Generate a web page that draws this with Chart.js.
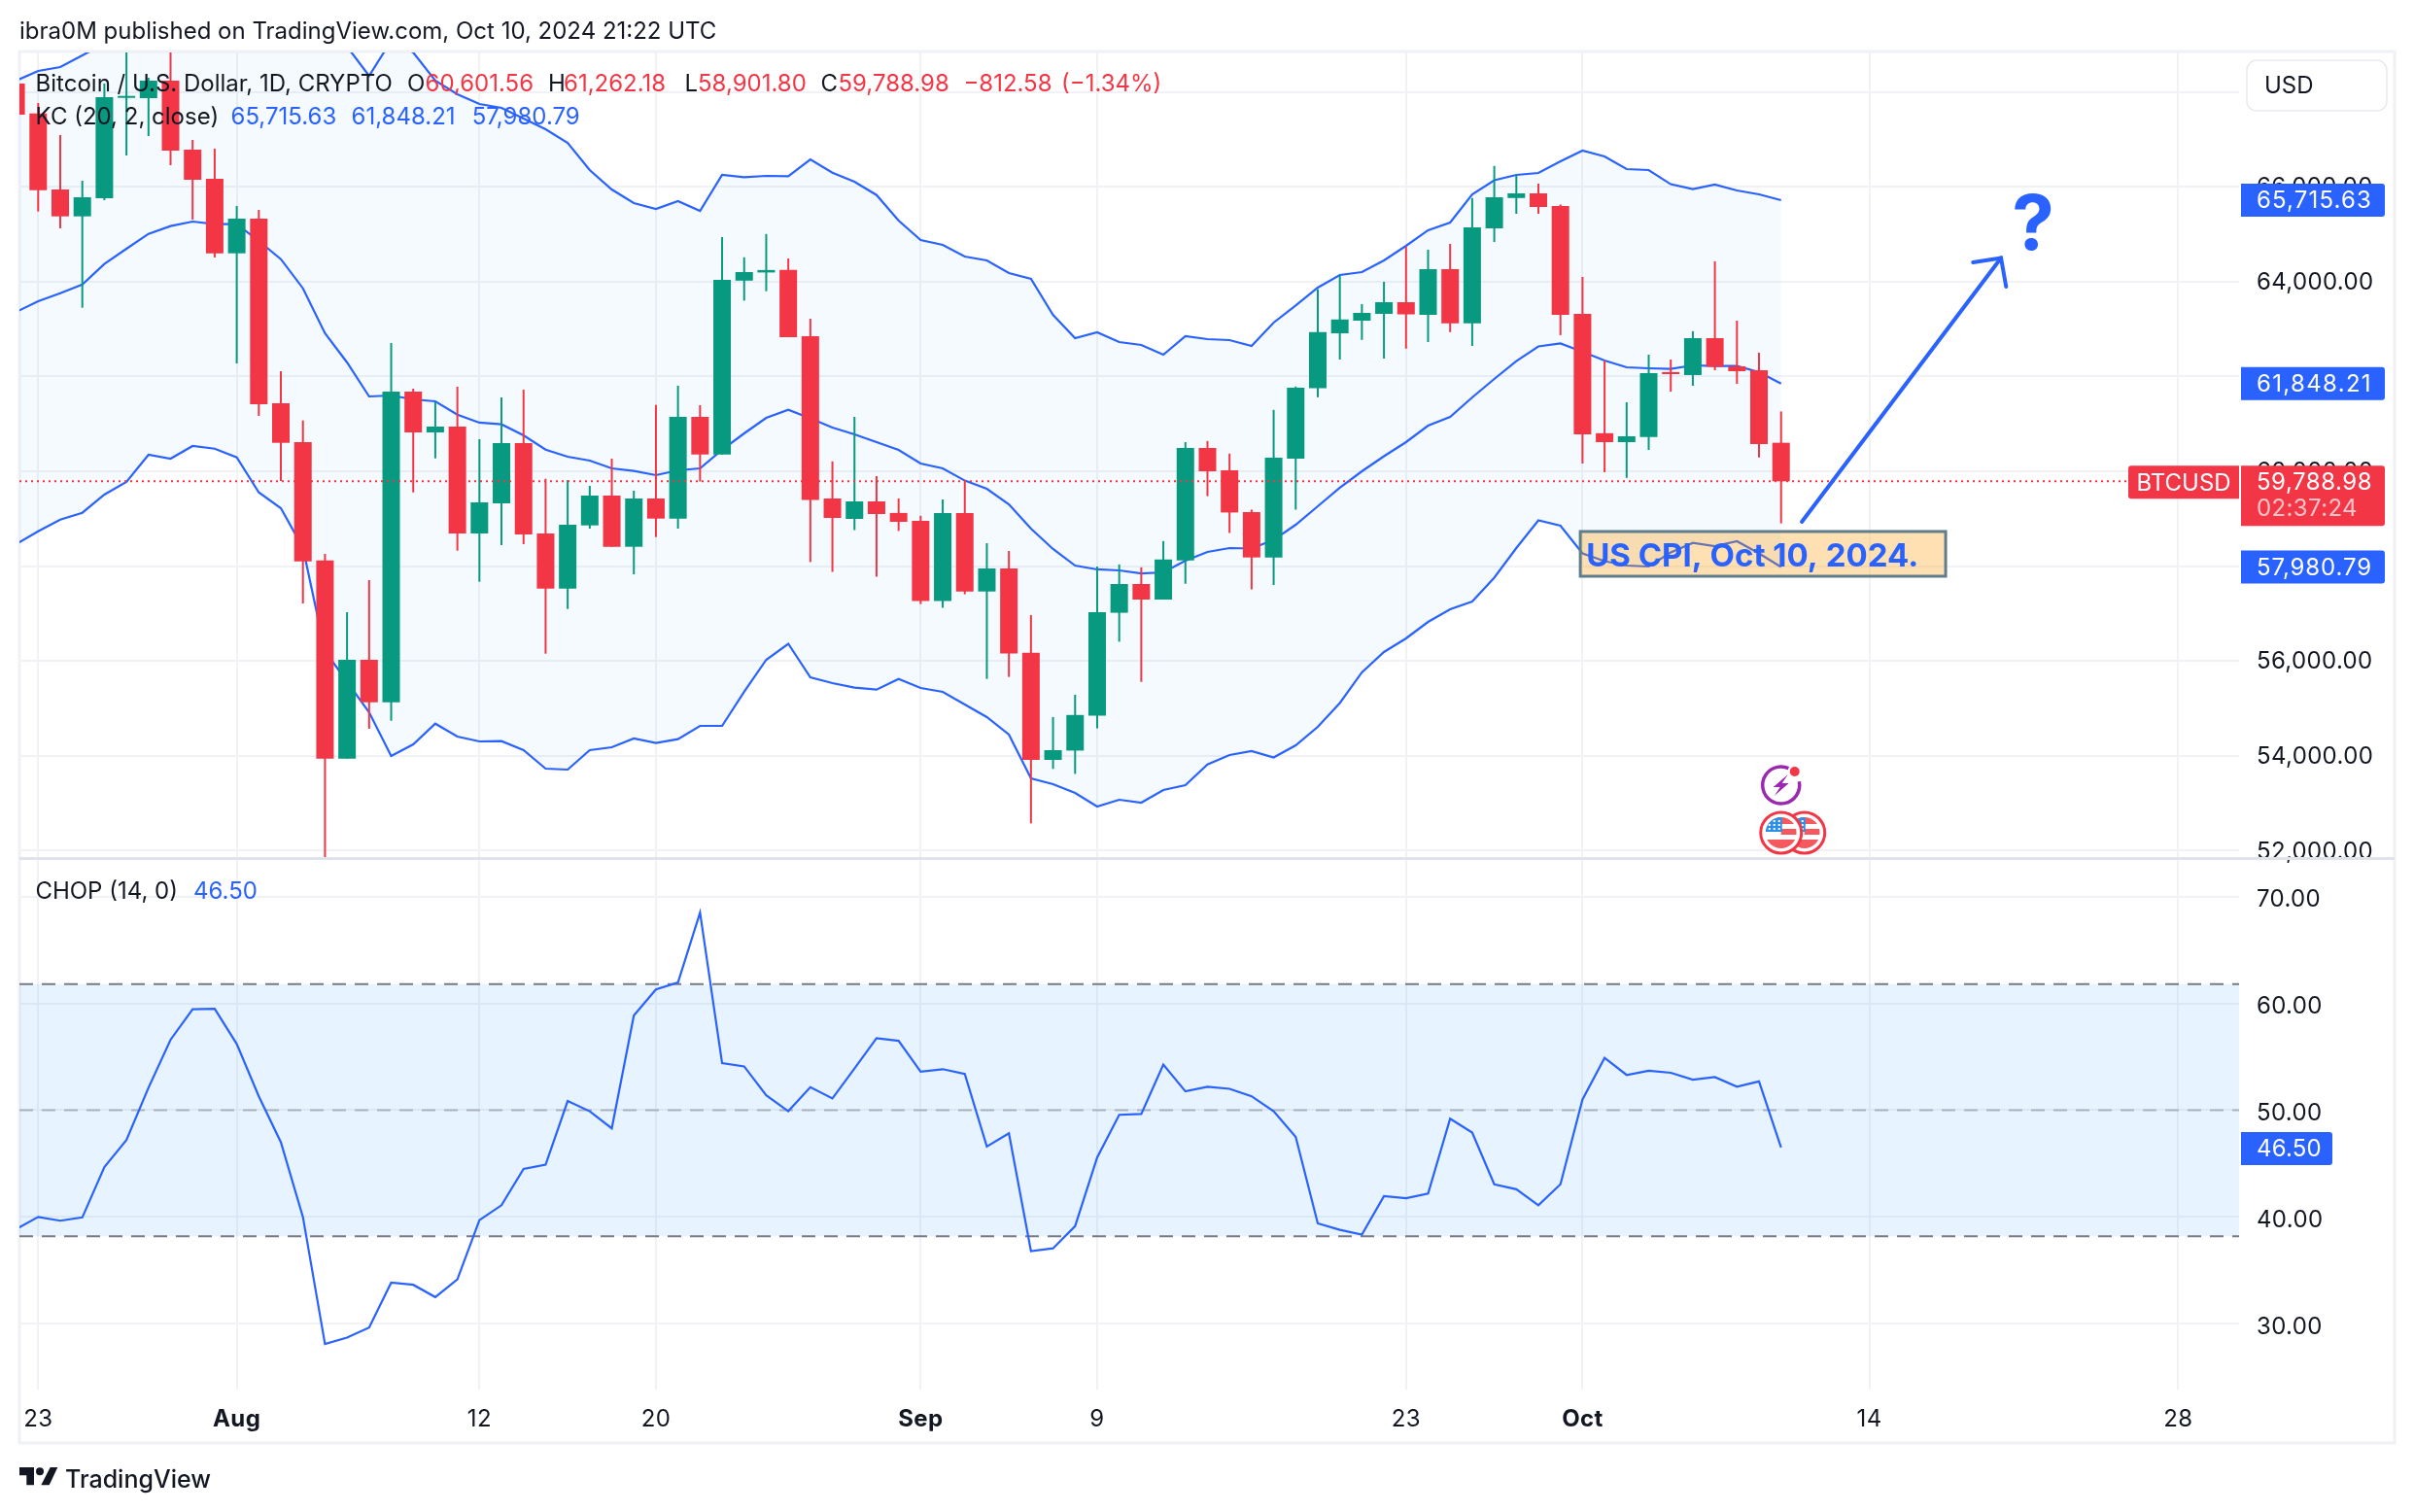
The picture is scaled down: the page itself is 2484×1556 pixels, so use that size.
<!DOCTYPE html>
<html>
<head>
<meta charset="utf-8">
<title>BTCUSD</title>
<style>html,body{margin:0;padding:0;background:#fff}canvas{display:block}</style>
<script src="https://cdn.jsdelivr.net/npm/chart.js@4/dist/chart.umd.min.js"></script>
</head>
<body>
<canvas id="c" width="2484" height="1556"></canvas>
<script>
const firstDay = -10; // day offset from Aug 1 2024 of the first candle (Jul 22)
const opens = [68176,67547,65942,65375,65758,67874,67868,68237,66782,66167,64596,65327,61434,60615,58121,53941,56025,55129,61680,60820,60943,58689,59324,60594,58689,57527,58859,59488,58408,59426,59002,61147,60354,64020,64192,64244,62848,59426,58996,59365,59121,58957,57267,59121,57465,57951,56172,53914,54111,54845,57017,57623,57295,58121,60492,60020,59139,58183,60268,61752,62910,63176,63319,63565,63299,64262,63117,65122,65762,65860,65596,63319,60803,60615,60721,62092,62029,62807,62213,62131,60601.56];
const highs = [68300,67766,67090,66127,68176,70000,68298,70000,66987,66803,65594,65512,62110,61072,58258,57029,57705,62705,61742,61475,61783,60676,61557,61721,59842,59816,59693,60266,59590,61399,61803,61393,64938,64512,65004,64487,63217,60209,61147,59898,59426,59062,59406,59803,58484,58320,56967,54818,55287,57992,58035,57976,58527,60615,60639,60373,59191,61295,61787,63840,64141,63524,63996,64737,64672,64795,65762,66438,66249,66065,65625,64098,62336,61455,62459,62356,62953,64426,63176,62500,61262.18];
const lows = [67520,65477,65122,63449,65717,66659,67069,66454,65307,64508,62274,61168,59795,57213,49000,53941,54570,54740,59555,60273,58326,57670,58443,58463,56154,57097,58791,58408,57828,58613,58791,59785,60354,63598,63797,62830,58086,57879,58760,57777,58742,57199,57121,57406,55621,55664,52576,53724,53619,54578,56406,55560,57295,57629,59475,58699,57508,57603,59191,61561,62356,62770,62377,62586,62725,62934,62643,64836,65430,65430,62871,60164,59980,59861,60451,61680,61803,62131,61844,60291,58901.80];
const closes = [67520,65928,65375,65778,67889,67909,68237,66762,66147,64596,65327,61414,60600,58101,53941,56025,55129,61680,60820,60943,58689,59344,60594,58668,57527,58873,59488,58408,59426,59002,61147,60354,64037,64200,64244,62830,59398,59016,59365,59098,58935,57267,59121,57465,57951,56156,53914,54119,54861,57029,57623,57295,58140,60492,60000,59131,58183,60287,61762,62934,63201,63340,63565,63309,64262,63117,65143,65778,65860,65573,63299,60779,60615,60738,62069,62049,62807,62203,62110,60574,59788.98];
const kcUpper = [68237,68442,68524,68770,69016,69500,70000,70400,70600,70700,70600,70300,70000,69800,69600,68954,68339,69077,68831,68237,67950,67745,67663,67438,67212,66926,66352,65942,65655,65532,65696,65491,66249,66202,66229,66223,66577,66297,66106,65825,65286,64877,64774,64528,64446,64180,64057,63299,62807,62930,62725,62664,62459,62848,62787,62766,62643,63135,63494,63873,64139,64200,64446,64754,65082,65245,65840,66137,66249,66290,66536,66762,66639,66372,66352,66053,65952,66045,65922,65840,65715.63];
const kcMiddle = [63360,63586,63756,63940,64371,64692,65006,65170,65266,65211,65211,64856,64473,63858,62910,62295,61578,61598,61516,61475,61195,61025,60990,60758,60457,60307,60225,60061,60006,59918,60020,60061,60451,60799,61127,61295,61115,60922,60779,60615,60451,60164,60061,59803,59631,59303,58791,58361,58012,57931,57910,57848,57869,58115,58299,58381,58371,58553,58873,59262,59652,60000,60318,60615,60963,61147,61557,61947,62322,62633,62696,62520,62336,62192,62172,62158,62233,62221,62221,62090,61848.21];
const kcLower = [58463,58736,58982,59125,59508,59775,60348,60266,60533,60477,60293,59555,59221,58387,56209,55560,54918,53996,54242,54679,54406,54304,54310,54119,53730,53710,54119,54181,54365,54269,54353,54632,54632,55353,56025,56363,55656,55533,55439,55396,55621,55431,55349,55082,54816,54447,53525,53402,53218,52931,53074,53013,53279,53382,53818,54017,54099,53964,54222,54611,55113,55759,56189,56476,56824,57090,57254,57756,58381,58965,58853,58269,58105,58012,57992,58287,58490,58422,58525,58269,57980.79];
const chopValues = [38.86,40.0,39.65,39.96,44.67,47.2,52.1,56.6,59.45,59.5,56.2,51.3,47.0,40.0,28.1,28.7,29.65,33.85,33.65,32.5,34.15,39.7,41.1,44.5,44.9,50.86,49.9,48.3,58.86,61.3,61.96,68.5,54.4,54.1,51.4,49.9,52.16,51.1,53.9,56.75,56.5,53.6,53.84,53.4,46.6,47.84,36.8,37.06,39.14,45.57,49.57,49.65,54.27,51.76,52.2,52.0,51.3,49.9,47.5,39.4,38.8,38.35,41.96,41.76,42.2,49.2,47.9,43.06,42.6,41.1,43.06,51.0,54.9,53.3,53.7,53.5,52.86,53.1,52.2,52.7,46.5];
const priceTicks = [52000,54000,56000,58000,60000,62000,64000,66000,68000];
const chopTicks = [30,40,50,60,70];
const chopUpper = 61.8, chopMid = 50, chopLower = 38.2;
const timeTickDays = [-9,0,11,19,31,39,53,61,74,88];
const timeTickLabels = ['23','Aug','12','20','Sep','9','23','Oct','14','28'];
const monthLabels = ['Aug','Sep','Oct'];
const lastClose = 59788.98, kcLast = [65715.63,61848.21,57980.79], chopLast = 46.5;
const arrowLine = [[70.94,58935],[79.97,64498]];
const arrowHead = [[78.7,64405],[79.97,64498],[80.2,63893]];
const calloutBox = {day0:60.9, day1:77.46, top:58730, bottom:57787};
const questionAt = {day:81.42, price:65143};
const eventDay = 70;

const BLUE='#2962ff', RED='#f23645', GREEN='#089981', INK='#131722', GRID='#f1f2f5';
const days = opens.map((_,i)=>firstDay+i);
const up = closes.map((c,i)=>c>=opens[i]);
const candleColors = up.map(u=>u?GREEN:RED);
const fmt2 = v=>v.toLocaleString('en-US',{minimumFractionDigits:2,maximumFractionDigits:2});
const series = arr=>arr.map((v,i)=>({x:days[i],y:v}));
const xMin=-9.85, xMax=90.76;

function roundTag(ctx,x,y,w,h,rad,color){ctx.fillStyle=color;ctx.beginPath();ctx.roundRect(x,y,w,h,rad);ctx.fill();}
function label(ctx,t,x,y,font,color,align,fitWidth){
  ctx.font=font;ctx.fillStyle=color;ctx.textAlign=align||'left';ctx.textBaseline='middle';
  ctx.letterSpacing='0px';
  if(fitWidth){ctx.letterSpacing=((fitWidth-ctx.measureText(t).width)/t.length).toFixed(2)+'px';}
  ctx.fillText(t,x,y);
  ctx.letterSpacing='0px';
}

const overlay = {
  id:'overlay',
  beforeDraw(chart){
    const c=chart.ctx;
    c.fillStyle='#fff';c.fillRect(0,0,2484,1556);
    c.strokeStyle='#f0f1f6';c.lineWidth=3;c.strokeRect(20,53,2444,1432);
    c.letterSpacing='0.35px';
  },
  afterDatasetsDraw(chart){
    const c=chart.ctx, X=chart.scales.x, Y=chart.scales.y, S=chart.scales.chop;
    c.save();
    // pane separator
    c.fillStyle='#e0e3eb';c.fillRect(20,882,2444,3);
    // callout
    const bx=X.getPixelForValue(calloutBox.day0), bw=X.getPixelForValue(calloutBox.day1)-bx;
    const by=Y.getPixelForValue(calloutBox.top), bh=Y.getPixelForValue(calloutBox.bottom)-by;
    c.fillStyle='rgba(255,152,0,0.3)';c.fillRect(bx,by,bw,bh);
    c.strokeStyle='#607d8b';c.lineWidth=3;c.strokeRect(bx,by,bw,bh);
    label(c,'US CPI, Oct 10, 2024.',bx+6,by+bh/2+3,'bold 33px Inter',BLUE);
    label(c,'?',X.getPixelForValue(questionAt.day),Y.getPixelForValue(questionAt.price),'bold 78px Inter',BLUE,'center');
    // event icons
    const ex=X.getPixelForValue(eventDay);
    c.strokeStyle='#9c27b0';c.lineWidth=3.5;c.beginPath();c.arc(ex,808,19,-0.2,Math.PI*2-1.15);c.stroke();
    c.fillStyle='#9c27b0';c.beginPath();
    [[ex+7,797],[ex-8,810],[ex-1,810],[ex-7,819],[ex+8,806],[ex+1,806],[ex+7,797]].forEach((p,i)=>i?c.lineTo(p[0],p[1]):c.moveTo(p[0],p[1]));c.fill();
    c.fillStyle='#fff';c.beginPath();c.arc(ex+14,794,7,0,7);c.fill();
    c.fillStyle=RED;c.beginPath();c.arc(ex+14,794,5,0,7);c.fill();
    [ex+24,ex].forEach(fx=>{
      const fy=857;
      c.fillStyle='#fff';c.beginPath();c.arc(fx,fy,21,0,7);c.fill();
      c.strokeStyle=RED;c.lineWidth=3;c.stroke();
      c.save();c.beginPath();c.arc(fx,fy,16,0,7);c.clip();
      c.fillStyle='#f4595f';c.fillRect(fx-16,fy-16,32,7);c.fillRect(fx,fy-4,16,6);c.fillRect(fx-16,fy+7,32,9);
      c.fillStyle='#2f8fe6';c.fillRect(fx-16,fy-16,17,15);
      c.fillStyle='#fff';for(let r=0;r<3;r++)for(let q=0;q<3;q++)c.fillRect(fx-13+q*5,fy-13+r*4,2,2);
      c.restore();
    });
    // price tags
    const tagX=X.right+2, tagW=148, tagH=34;
    kcLast.forEach(v=>{
      const y=Y.getPixelForValue(v);
      roundTag(c,tagX,y-tagH/2,tagW,tagH,[0,3,3,0],BLUE);
      label(c,fmt2(v),X.right+18,y+1,'24px Inter','#fff','left',119);
    });
    const py=Y.getPixelForValue(lastClose);
    roundTag(c,tagX,py-16,tagW,62,[0,3,3,0],RED);
    label(c,fmt2(lastClose),X.right+18,py+1,'24px Inter','#fff','left',119);
    label(c,'02:37:24',X.right+18,py+28,'24px Inter','rgba(255,255,255,0.7)','left',104);
    roundTag(c,X.right-114,py-16,114,34,[3,0,0,3],RED);
    label(c,'BTCUSD',X.right-57,py+2,'24px Inter','#fff','center');
    const sy=S.getPixelForValue(chopLast);
    roundTag(c,tagX,sy-16,94,34,[0,3,3,0],BLUE);
    label(c,chopLast.toFixed(2),X.right+18,sy+2,'24px Inter','#fff','left',67);
    // currency button
    c.fillStyle='#fff';c.strokeStyle='#e8eaf1';c.lineWidth=1.5;c.beginPath();c.roundRect(2312,62,144,52,10);c.fill();c.stroke();
    label(c,'USD',2330,89,'24px Inter',INK);
    // legend
    const lf='24px Inter';
    label(c,'Bitcoin / U.S. Dollar, 1D, CRYPTO',36.6,87,lf,INK);
    [['O',419,INK],['60,601.56',437.5,RED],['H',564,INK],['61,262.18',580,RED],['L',704.6,INK],['58,901.80',718,RED],['C',844.6,INK],['59,788.98',862.5,RED],['\u2212812.58',991.4,RED],['(\u22121.34%)',1092,RED]]
      .forEach(r=>label(c,r[0],r[1],87,lf,r[2]));
    label(c,'KC (20, 2, close)',36.6,121,lf,INK);
    [['65,715.63',237.5],['61,848.21',361.6],['57,980.79',485.7]].forEach(r=>label(c,r[0],r[1],121,lf,BLUE));
    label(c,'CHOP (14, 0)',36.4,918,lf,INK);
    label(c,'46.50',199,918,lf,BLUE);
    // header and footer
    label(c,'ibra0M published on TradingView.com, Oct 10, 2024 21:22 UTC',20,33,'24px Inter',INK);
    c.fillStyle=INK;
    c.beginPath();c.moveTo(20,1510);c.lineTo(35,1510);c.lineTo(35,1528.3);c.lineTo(27.3,1528.3);c.lineTo(27.3,1518.3);c.lineTo(20,1518.3);c.closePath();c.fill();
    c.beginPath();c.arc(41,1514.3,4,0,7);c.fill();
    c.beginPath();c.moveTo(51.7,1510);c.lineTo(59.3,1510);c.lineTo(50.7,1528.3);c.lineTo(42.3,1528.3);c.closePath();c.fill();
    label(c,'TradingView',67,1523,'500 25px Inter',INK);
    c.restore();
  }
};

const lineW = 2.2;
new Chart(document.getElementById('c'),{
  type:'line',
  data:{datasets:[
    {label:'KC Upper',data:series(kcUpper),yAxisID:'y',borderColor:BLUE,borderWidth:lineW,pointRadius:0,tension:0,fill:{target:2},backgroundColor:'rgba(33,150,243,0.05)',order:12},
    {label:'KC Middle',data:series(kcMiddle),yAxisID:'y',borderColor:BLUE,borderWidth:lineW,pointRadius:0,tension:0,fill:false,order:11},
    {label:'KC Lower',data:series(kcLower),yAxisID:'y',borderColor:BLUE,borderWidth:lineW,pointRadius:0,tension:0,fill:false,order:10},
    {type:'bar',label:'Wicks',data:days.map((d,i)=>({x:d,y:[lows[i],highs[i]]})),yAxisID:'y',backgroundColor:candleColors,barThickness:2,grouped:false,inflateAmount:0,order:6},
    {type:'bar',label:'Bodies',data:days.map((d,i)=>({x:d,y:[opens[i],closes[i]]})),yAxisID:'y',backgroundColor:candleColors,barThickness:18,grouped:false,inflateAmount:0,minBarLength:2,order:5},
    {label:'Last',data:[{x:xMin,y:lastClose},{x:85.74,y:lastClose}],yAxisID:'y',borderColor:RED,borderWidth:2,borderDash:[2,4],pointRadius:0,fill:false,order:4},
    {label:'Arrow',data:arrowLine.map(p=>({x:p[0],y:p[1]})),yAxisID:'y',borderColor:BLUE,borderWidth:4,borderCapStyle:'round',pointRadius:0,fill:false,order:3},
    {label:'ArrowHead',data:arrowHead.map(p=>({x:p[0],y:p[1]})),yAxisID:'y',borderColor:BLUE,borderWidth:4,borderCapStyle:'round',pointRadius:0,fill:false,order:3},
    {label:'CHOP band top',data:[{x:xMin,y:chopUpper},{x:xMax,y:chopUpper}],yAxisID:'chop',borderColor:'#787b86',borderWidth:2,borderDash:[14,9],pointRadius:0,fill:{target:9},backgroundColor:'rgba(33,150,243,0.11)',order:20},
    {label:'CHOP band bottom',data:[{x:xMin,y:chopLower},{x:xMax,y:chopLower}],yAxisID:'chop',borderColor:'#787b86',borderWidth:2,borderDash:[14,9],pointRadius:0,fill:false,order:19},
    {label:'CHOP mid',data:[{x:xMin,y:chopMid},{x:xMax,y:chopMid}],yAxisID:'chop',borderColor:'rgba(120,123,134,0.5)',borderWidth:2,borderDash:[14,9],pointRadius:0,fill:false,order:18},
    {label:'CHOP',data:series(chopValues),yAxisID:'chop',borderColor:BLUE,borderWidth:lineW,pointRadius:0,tension:0,fill:false,order:1}
  ]},
  options:{
    responsive:false,animation:false,devicePixelRatio:1,
    layout:{padding:{left:20,top:54,right:0,bottom:0}},
    plugins:{legend:{display:false},tooltip:{enabled:false},title:{display:false}},
    scales:{
      x:{type:'linear',position:'bottom',min:xMin,max:xMax,offset:false,
        afterFit(s){s.height=126;},
        afterBuildTicks(s){s.ticks=timeTickDays.map(v=>({value:v}));},
        border:{display:false},
        grid:{color:GRID,lineWidth:2,offset:false,drawTicks:false},
        ticks:{autoSkip:false,maxRotation:0,minRotation:0,padding:16,color:INK,
          callback:v=>timeTickLabels[timeTickDays.indexOf(v)],
          font:ctx=>({family:'Inter',size:24,weight:monthLabels.includes(timeTickLabels[timeTickDays.indexOf(ctx.tick&&ctx.tick.value)])?'bold':'normal'})}
      },
      y:{type:'linear',position:'right',stack:'panes',stackWeight:829,min:51845,max:68831,
        afterFit(s){s.width=180;},
        afterBuildTicks(s){s.ticks=priceTicks.map(v=>({value:v}));},
        border:{display:false},
        grid:{color:GRID,lineWidth:2,drawTicks:false},
        ticks:{autoSkip:false,padding:18,labelOffset:1,align:'center',crossAlign:'near',color:INK,font:{family:'Inter',size:24},callback:v=>fmt2(v)}
      },
      chop:{type:'linear',position:'right',stack:'panes',stackWeight:547,min:23.84,max:73.61,
        afterFit(s){s.width=180;},
        afterBuildTicks(s){s.ticks=chopTicks.map(v=>({value:v}));},
        border:{display:false},
        grid:{color:GRID,lineWidth:2,drawTicks:false},
        ticks:{autoSkip:false,padding:18,labelOffset:3,align:'center',crossAlign:'near',color:INK,font:{family:'Inter',size:24},callback:v=>v.toFixed(2)}
      }
    }
  },
  plugins:[overlay]
});
</script>
</body>
</html>
